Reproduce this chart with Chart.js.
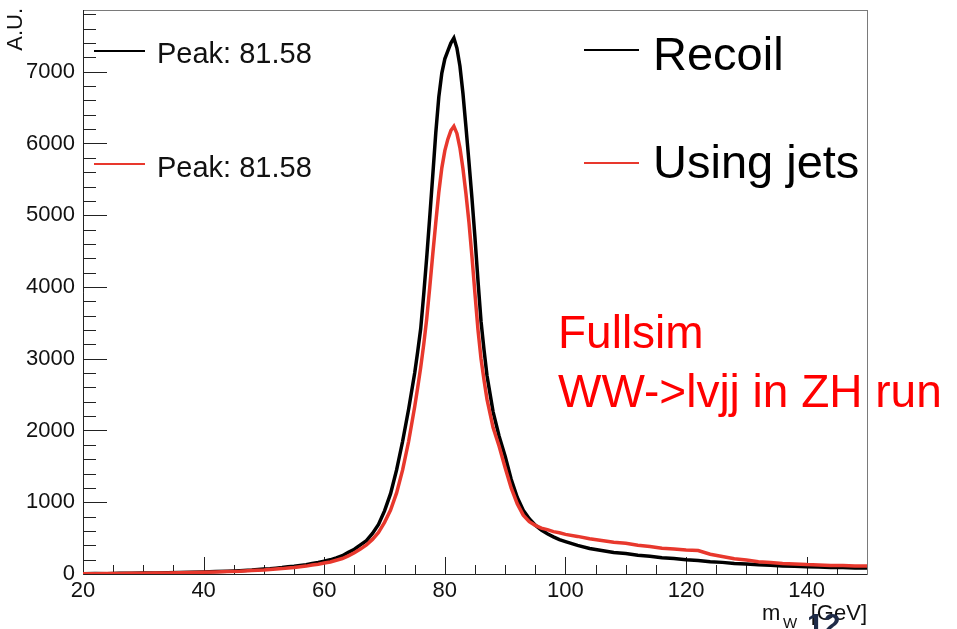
<!DOCTYPE html>
<html lang="en">
<head>
  <meta charset="UTF-8" />
  <title>W mass: recoil vs jets</title>
  <script src="https://cdn.jsdelivr.net/npm/chart.js"></script>
  <style>
    body {
      margin: 0;
      background: #fff;
    }
    canvas {
      display: block;
    }
  </style>
</head>
<body>
  <canvas id="massChart" width="957" height="629"></canvas>

  <script>
    // bin centres in GeV (finer around the peak)
    const massBins = [
      20, 22, 24, 26, 28, 30, 32, 34, 36, 38, 40, 42, 44, 46, 48, 50,
      51, 52, 53, 54, 55, 56, 57, 58, 59, 60, 61, 62, 63, 64, 65, 66, 67, 68, 69, 70, 71, 72, 73, 74, 75,
      75.5, 76, 76.5, 77, 77.5, 78, 78.5, 79, 79.5, 80, 80.5, 81, 81.5, 82, 82.5, 83, 83.5, 84, 84.5, 85, 85.5, 86, 86.5, 87,
      88, 89, 90, 91, 92, 93, 94, 95, 96, 97, 98, 99, 100,
      102, 104, 106, 108, 110, 112, 114, 116, 118, 120, 122, 124, 126, 128, 130, 132, 134, 136, 138, 140, 142, 144, 146, 148, 150
    ];

    const recoilCounts = [
      4, 6, 5, 9, 10, 13, 15, 18, 20, 25, 28, 34, 39, 47, 55, 68,
      72, 82, 90, 100, 108, 120, 130, 148, 160, 180, 198, 225, 255, 302, 345, 405, 465, 565, 690, 880, 1120, 1450, 1850, 2300, 2800,
      3100, 3420, 3900, 4420, 4980, 5560, 6150, 6650, 6980, 7180, 7290, 7400, 7470, 7330, 7080, 6700, 6230, 5740, 5230, 4680, 4080, 3520, 3120, 2760,
      2260, 1920, 1640, 1320, 1070, 890, 770, 680, 612, 560, 518, 480, 452,
      398, 355, 328, 300, 285, 262, 248, 228, 215, 198, 188, 172, 162, 148, 140, 128, 122, 113, 108, 100, 97, 92, 90, 85, 84
    ];

    const jetCounts = [
      4, 5, 7, 7, 10, 11, 14, 15, 19, 21, 26, 29, 35, 40, 49, 56,
      62, 69, 75, 84, 91, 102, 110, 124, 136, 152, 168, 192, 216, 252, 295, 347, 405, 482, 580, 720, 890, 1130, 1450, 1850, 2330,
      2600, 2880, 3200, 3560, 4000, 4460, 4900, 5320, 5660, 5900, 6060, 6180, 6240, 6140, 5940, 5650, 5300, 4900, 4420, 3900, 3400, 3000, 2700, 2430,
      2040, 1780, 1480, 1200, 980, 820, 730, 678, 640, 618, 590, 574, 552,
      524, 490, 466, 442, 428, 402, 382, 358, 350, 336, 326, 275, 244, 212, 194, 172, 161, 147, 141, 131, 127, 120, 118, 113, 112
    ];

    const xTickValues = [20, 40, 60, 80, 100, 120, 140];
    const yTickValues = [0, 1000, 2000, 3000, 4000, 5000, 6000, 7000];
    const peakLabels = ["Peak: 81.58", "Peak: 81.58"];
    const seriesNames = ["Recoil", "Using jets"];

    const BLACK = "#000000";
    const RED = "#e8382d";
    const FONT = "'Liberation Sans', Arial, sans-serif";

    const toPoints = (ys) => massBins.map((m, i) => ({ x: m, y: ys[i] }));

    // ROOT-like frame with inward ticks
    const framePlugin = {
      id: "frame",
      beforeDatasetsDraw(chart) {
        const { ctx, chartArea: a, scales: { x, y } } = chart;
        ctx.save();
        ctx.strokeStyle = "#7a7a7a";
        ctx.lineWidth = 1;
        ctx.strokeRect(a.left + 0.5, a.top + 0.5, a.right - a.left, a.bottom - a.top);

        ctx.strokeStyle = "#222";
        ctx.beginPath();
        ctx.moveTo(a.left + 0.5, a.top);
        ctx.lineTo(a.left + 0.5, a.bottom + 0.5);
        ctx.lineTo(a.right, a.bottom + 0.5);
        ctx.stroke();

        ctx.beginPath();
        for (let v = 25; v < 150; v += 5) {
          const px = Math.round(x.getPixelForValue(v)) + 0.5;
          const len = xTickValues.includes(v) ? 17 : 9;
          ctx.moveTo(px, a.bottom);
          ctx.lineTo(px, a.bottom - len);
        }
        for (let v = 200; v <= y.max; v += 200) {
          const py = Math.round(y.getPixelForValue(v)) + 0.5;
          const len = yTickValues.includes(v) ? 24 : 13;
          ctx.moveTo(a.left, py);
          ctx.lineTo(a.left + len, py);
        }
        ctx.stroke();
        ctx.restore();
      },
      afterDraw(chart) {
        const ctx = chart.ctx;
        ctx.save();

        // y axis title, right aligned at the top like ROOT
        ctx.save();
        ctx.translate(16, 8);
        ctx.rotate(-Math.PI / 2);
        ctx.fillStyle = "#111";
        ctx.font = "22px " + FONT;
        ctx.textAlign = "right";
        ctx.textBaseline = "middle";
        ctx.fillText("A.U.", 0, 0);
        ctx.restore();

        ctx.textBaseline = "alphabetic";
        ctx.textAlign = "left";

        // left legend: peak positions
        ctx.lineWidth = 2;
        [[BLACK, 51, 63], [RED, 164, 177]].forEach(([c, ly, base], i) => {
          ctx.strokeStyle = c;
          ctx.beginPath();
          ctx.moveTo(94, ly);
          ctx.lineTo(145, ly);
          ctx.stroke();
          ctx.fillStyle = "#111";
          ctx.font = "29px " + FONT;
          ctx.fillText(peakLabels[i], 157, base);
        });

        // right legend: series names
        [[BLACK, 50, 70], [RED, 163, 178]].forEach(([c, ly, base], i) => {
          ctx.strokeStyle = c;
          ctx.beginPath();
          ctx.moveTo(584, ly);
          ctx.lineTo(639, ly);
          ctx.stroke();
          ctx.fillStyle = "#000";
          ctx.font = "47px " + FONT;
          ctx.fillText(seriesNames[i], 653, base);
        });

        // annotation
        ctx.fillStyle = "#ff0000";
        ctx.font = "46px " + FONT;
        ctx.fillText("Fullsim", 558, 348);
        ctx.fillText("WW->lvjj in ZH run", 558, 407);

        // x axis title  m_W [GeV]
        ctx.fillStyle = "#111";
        ctx.font = "22px " + FONT;
        ctx.fillText("m", 762, 620);
        ctx.font = "15px " + FONT;
        ctx.fillText("W", 783, 628);
        ctx.font = "22px " + FONT;
        ctx.textAlign = "right";
        ctx.fillText("[GeV]", 867, 620);

        // slide number peeking in
        ctx.textAlign = "left";
        ctx.fillStyle = "#1e2b48";
        ctx.font = "bold 30px " + FONT;
        ctx.fillText("12", 807, 634);
        ctx.restore();
      }
    };

    new Chart(document.getElementById("massChart").getContext("2d"), {
      type: "line",
      data: {
        datasets: [
          {
            label: seriesNames[0],
            data: toPoints(recoilCounts),
            borderColor: BLACK,
            borderWidth: 3.5,
            pointRadius: 0,
            tension: 0,
            order: 2
          },
          {
            label: seriesNames[1],
            data: toPoints(jetCounts),
            borderColor: RED,
            borderWidth: 3.5,
            pointRadius: 0,
            tension: 0,
            order: 1
          }
        ]
      },
      options: {
        responsive: false,
        animation: false,
        layout: { padding: { left: 0, top: 10, right: 90, bottom: 0 } },
        plugins: {
          legend: { display: false },
          tooltip: { enabled: false }
        },
        scales: {
          x: {
            type: "linear",
            min: 20,
            max: 150,
            afterFit: (s) => { s.height = 55; },
            afterBuildTicks: (s) => { s.ticks = xTickValues.map(v => ({ value: v })); },
            grid: { display: false, drawTicks: false },
            border: { display: false },
            ticks: {
              color: "#111",
              padding: 4,
              maxRotation: 0,
              callback: (v) => String(v),
              font: { family: FONT, size: 22 }
            }
          },
          y: {
            min: 0,
            max: 7860,
            afterFit: (s) => { s.width = 83; s.paddingTop = 0; s.paddingBottom = 0; },
            afterBuildTicks: (s) => { s.ticks = yTickValues.map(v => ({ value: v })); },
            grid: { display: false, drawTicks: false },
            border: { display: false },
            ticks: {
              color: "#111",
              padding: 8,
              callback: (v) => String(v),
              font: { family: FONT, size: 22 }
            }
          }
        }
      },
      plugins: [framePlugin]
    });
  </script>
</body>
</html>
